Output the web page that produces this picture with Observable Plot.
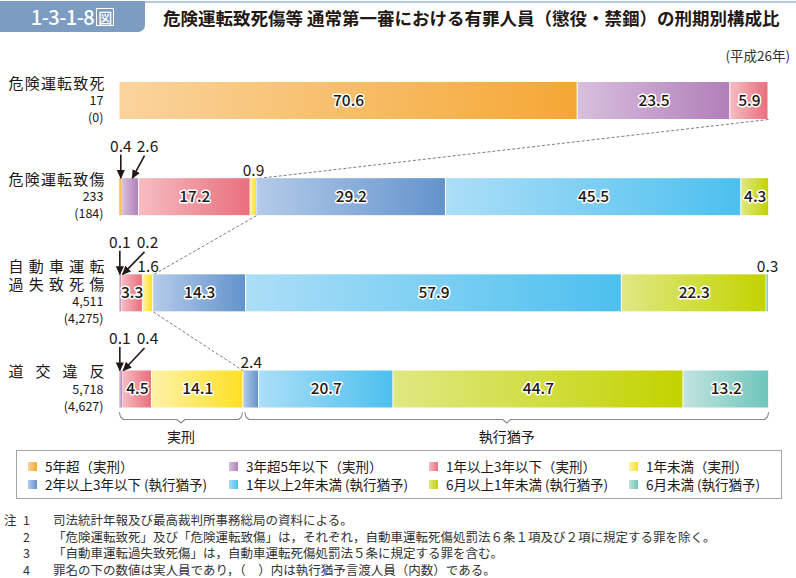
<!DOCTYPE html>
<html><head><meta charset="utf-8">
<script src="https://cdn.jsdelivr.net/npm/d3@7"></script>
<script src="https://cdn.jsdelivr.net/npm/@observablehq/plot@0.6"></script>
<style>
body{margin:0;background:#fff;font-family:"Noto Sans CJK JP","Noto Sans",sans-serif;color:#231815;}
#page{position:relative;width:796px;height:578px;overflow:hidden;background:#fff;}
#hdrline{position:absolute;left:140px;top:1px;width:656px;height:2px;background:#b7c9e0;}
#fig{position:absolute;left:0;top:1px;width:145px;height:31px;background:#7d9cc2;border-bottom-right-radius:7px;color:#fff;font-size:20px;font-weight:500;line-height:31px;text-align:center;letter-spacing:-0.5px;}
#fig .zu{display:inline-block;border:1.5px solid #fff;font-size:14px;line-height:16px;padding:0 1px;margin-left:2px;vertical-align:2px;letter-spacing:0;}
#title{position:absolute;left:163px;top:4px;font-size:17.5px;font-weight:700;line-height:28px;white-space:nowrap;color:#231815;}
#year{position:absolute;right:6px;top:46px;font-size:13.5px;line-height:18px;color:#333;}
#chart{position:absolute;left:0;top:62px;}
#legend{position:absolute;left:16px;top:450px;width:764px;height:47px;border:1px solid #a3a3a3;}
.li{position:absolute;font-size:13.5px;line-height:17px;white-space:nowrap;color:#231815;}
.li .sw{position:absolute;left:0;top:4px;width:9px;height:9px;}
.li .tx{position:absolute;left:17px;top:0;}
#notes{position:absolute;left:0;top:512px;font-size:12.5px;line-height:16.5px;color:#333;}
.nl{position:relative;height:16.5px;white-space:nowrap;}
.nl .a{position:absolute;left:4px;}
.nl .n{position:absolute;left:23px;}
.nl .t{position:absolute;left:53px;}
</style></head><body><div id="page">
<div id="hdrline"></div>
<div id="fig">1-3-1-8<span class="zu">図</span></div>
<div id="title">危険運転致死傷等 通常第一審における有罪人員（懲役・禁錮）の刑期別構成比</div>
<div id="year">(平成26年)</div>
<div id="chart"></div>
<div id="legend"></div>
<div id="notes"></div>
</div>
<script>
// ---- data ----
const categories = ["5年超（実刑）","3年超5年以下（実刑）","1年以上3年以下（実刑）","1年未満（実刑）",
  "2年以上3年以下 (執行猶予)","1年以上2年未満 (執行猶予)","6月以上1年未満 (執行猶予)","6月未満 (執行猶予)"];
const colorsLight = ["#fad49d","#d8bfdd","#f6bcc1","#fdf2a8","#b4cbe9","#acdef7","#e0e883","#c2e4df"];
const colorsDark  = ["#f5a734","#b17fb9","#e96f7d","#fde024","#6393cc","#4cc0ee","#c2d300","#6ec5bb"];
const offenses = ["危険運転致死","危険運転致傷","自動車運転\n過失致死傷","道交違反"];
const totals = ["17","233","4,511","5,718"];
const suspended = ["(0)","(184)","(4,275)","(4,627)"];
const sharesDeath   = [70.6, 23.5, 5.9, 0, 0, 0, 0, 0];
const sharesInjury  = [0.4, 2.6, 17.2, 0.9, 29.2, 45.5, 4.3, 0];
const sharesNegl    = [0.1, 0.2, 3.3, 1.6, 14.3, 57.9, 22.3, 0.3];
const sharesTraffic = [0.1, 0.4, 4.5, 14.1, 2.4, 20.7, 44.7, 13.2];
const prisonCats = 4; // first four categories = 実刑
const groupLabels = ["実刑","執行猶予"];
// small segments labelled outside the bar: [row, category, style]
const outsideLabels = [
  [1,0,"down"],[1,1,"diag"],[1,3,"top"],
  [2,0,"down"],[2,1,"diag"],[2,3,"top"],[2,7,"top"],
  [3,0,"down"],[3,1,"diag"],[3,4,"top"]
];
const notes = [
  ["注","1","司法統計年報及び最高裁判所事務総局の資料による。"],
  ["","2","「危険運転致死」及び「危険運転致傷」は，それぞれ，自動車運転死傷処罰法６条１項及び２項に規定する罪を除く。"],
  ["","3","「自動車運転過失致死傷」は，自動車運転死傷処罰法５条に規定する罪を含む。"],
  ["","4","罪名の下の数値は実人員であり，（　）内は執行猶予言渡人員（内数）である。"]
];

// ---- derived ----
const rows = [sharesDeath, sharesInjury, sharesNegl, sharesTraffic];
const W = 796, H = 385, ML = 119, MR = 28;
const yTop = 38.5, yBot = 327;
const rowPx = (yBot - yTop) / 3;
const px = n => n * 100 / (W - ML - MR);   // pixels -> x units
const py = n => n / rowPx;                  // pixels -> y units
const HB = py(18.5);                        // half bar thickness
const NAME_FILL = "#231816", ARROW_STROKE = "#231814";

const segs = [];
rows.forEach((vals, r) => {
  let c = 0;
  vals.forEach((v, k) => { if (v > 0) segs.push({r, k, v, x1: c, x2: c + v, cx: c + v / 2}); c += v; });
});
const segOf = (r, k) => segs.find(s => s.r === r && s.k === k);
const boundary = rows.map(vals => d3.sum(vals.slice(0, prisonCats)));

const outs = outsideLabels.map(([r, k, kind]) => ({...segOf(r, k), kind}));
const labelData = outs.map(d => {
  const top = d.r - HB;
  if (d.kind === "down") return {x: d.cx, y: top - py(32), t: d.v.toFixed(1)};
  if (d.kind === "diag") return {x: px(28), y: top - py(32), t: d.v.toFixed(1)};
  return {x: d.cx, y: top - py(8), t: d.v.toFixed(1)};
});
const arrows = outs.filter(d => d.kind !== "top").map(d => {
  const top = d.r - HB;
  if (d.kind === "down") return {x1: d.cx, y1: top - py(24), x2: d.cx, y2: top - py(0.5)};
  return {x1: px(25), y1: top - py(23), x2: d.cx + px(1.8), y2: top - py(0.5)};
});
const connectors = d3.range(3).map(r => ({x1: boundary[r], y1: r + HB, x2: boundary[r + 1], y2: r + 1 - HB}));

// brackets under last row
const lastR = 3, bb = lastR + HB;
const bTop = bb + py(4.5), bLine = bb + py(11.5), bNotch = bb + py(15);
function bracket(a, b, g) {
  const m = (a + b) / 2;
  return [[a, bTop], [a + px(1), bLine - py(2.5)], [a + px(4), bLine], [m - px(4), bLine], [m, bNotch],
          [m + px(4), bLine], [b - px(4), bLine], [b - px(1), bLine - py(2.5)], [b, bTop]].map(([x, y]) => ({x, y, g}));
}
const bnd = boundary[lastR];
const bracketPts = [...bracket(0, bnd - px(1), 0), ...bracket(bnd + px(1.5), 100, 1)];
const bracketLabels = [{x: (bnd - px(1)) / 2, t: groupLabels[0]}, {x: (bnd + px(1.5) + 100) / 2, t: groupLabels[1]}];

// row label lines
const nameLines = [], numLines = [];
offenses.forEach((name, r) => {
  const names = name.split("\n");
  const offs = names.map((n, i) => i * 18);
  const last = offs[offs.length - 1];
  const all = [...offs, last + 17, last + 34];
  const shift = -(all[all.length - 1]) / 2;
  names.forEach((n, i) => nameLines.push({y: r + py(all[i] + shift), t: n}));
  numLines.push({y: r + py(all[names.length] + shift), t: totals[r]});
  numLines.push({y: r + py(all[names.length + 1] + shift), t: suspended[r]});
});

const defs = () => {
  const d = d3.create("svg:defs");
  categories.forEach((c, i) => {
    const g = d.append("linearGradient").attr("id", "g" + i).attr("x1", 0).attr("x2", 1).attr("y1", 0).attr("y2", 0);
    g.append("stop").attr("offset", 0).attr("stop-color", colorsLight[i]);
    g.append("stop").attr("offset", 1).attr("stop-color", colorsDark[i]);
  });
  d.append("marker").attr("id", "ah").attr("viewBox", "0 0 10 10").attr("refX", 9).attr("refY", 5)
    .attr("markerWidth", 9).attr("markerHeight", 9).attr("markerUnits", "userSpaceOnUse").attr("orient", "auto")
    .append("path").attr("d", "M0,0.5L10,5L0,9.5z").attr("fill", "#231815");
  return d.node();
};

const font = '"Noto Sans CJK JP","Noto Sans",sans-serif';
const chart = Plot.plot({
  width: W, height: H,
  marginLeft: ML, marginRight: MR, marginTop: 0, marginBottom: 0,
  x: {domain: [0, 100], range: [ML, W - MR], axis: null},
  y: {domain: [0, 3], range: [yTop, yBot], axis: null},
  style: {fontFamily: font, background: "transparent", overflow: "visible"},
  marks: [
    defs,
    Plot.link(connectors, {x1: "x1", y1: "y1", x2: "x2", y2: "y2", stroke: "#6e6e6e", strokeWidth: 0.9, strokeDasharray: "3,2"}),
    Plot.rect(segs.filter(d => d.v >= 1), {x1: "x1", x2: "x2", y1: d => d.r - HB, y2: d => d.r + HB,
      fill: d => `url(#g${d.k})`, insetLeft: 0.5, insetRight: 0.5}),
    Plot.rect(segs.filter(d => d.v < 1), {x1: "x1", x2: "x2", y1: d => d.r - HB, y2: d => d.r + HB,
      fill: d => `url(#g${d.k})`}),
    Plot.text(segs.filter(d => d.v >= 3), {x: "cx", y: "r", text: d => d.v.toFixed(1), fontSize: 15.5,
      fill: "#231815", stroke: "white", strokeWidth: 3, paintOrder: "stroke", strokeLinejoin: "round", fontWeight: 500}),
    Plot.text(labelData, {x: "x", y: "y", text: "t", fontSize: 15.5, fill: "#231815"}),
    Plot.link(arrows, {x1: "x1", y1: "y1", x2: "x2", y2: "y2", stroke: ARROW_STROKE, strokeWidth: 1.6}),
    Plot.line(bracketPts, {x: "x", y: "y", z: "g", stroke: "#8a8a8a", strokeWidth: 1.1, strokeLinejoin: "round"}),
    Plot.text(bracketLabels, {x: "x", y: () => bb + py(29.5), text: "t", fontSize: 14, fill: "#231815"}),
    Plot.text(nameLines, {x: () => 0, y: "y", text: "t", dx: -15, textAnchor: "end", fontSize: 15, fill: NAME_FILL}),
    Plot.text(numLines, {x: () => 0, y: "y", text: "t", dx: -16, textAnchor: "end", fontSize: 12.5, fill: "#231815"})
  ]
});
chart.querySelectorAll(`g[fill="${NAME_FILL}"] text`).forEach(t => {
  t.setAttribute("textLength", 96); t.setAttribute("lengthAdjust", "spacing");
});
chart.querySelectorAll(`g[stroke="${ARROW_STROKE}"] path, g[stroke="${ARROW_STROKE}"] line`).forEach(p => p.setAttribute("marker-end", "url(#ah)"));
document.getElementById("chart").appendChild(chart);

// legend
const legX = [11, 212, 412, 612];
const legend = document.getElementById("legend");
categories.forEach((c, i) => {
  const el = document.createElement("div");
  el.className = "li";
  el.style.left = legX[i % 4] + "px";
  el.style.top = (i < 4 ? 7 : 25) + "px";
  el.innerHTML = `<span class="sw" style="background:linear-gradient(90deg,${colorsLight[i]},${colorsDark[i]})"></span><span class="tx">${c}</span>`;
  legend.appendChild(el);
});
// notes
const nEl = document.getElementById("notes");
notes.forEach(([a, n, t]) => {
  const el = document.createElement("div");
  el.className = "nl";
  el.innerHTML = `<span class="a">${a}</span><span class="n">${n}</span><span class="t">${t}</span>`;
  nEl.appendChild(el);
});
</script></body></html>
